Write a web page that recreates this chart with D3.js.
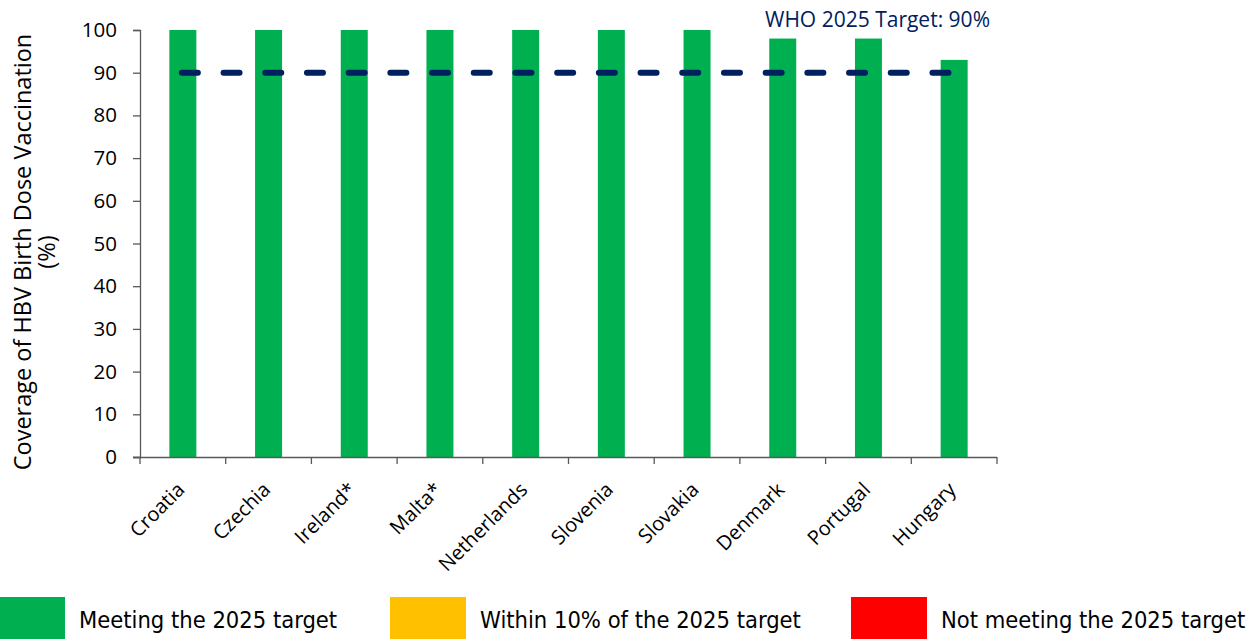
<!DOCTYPE html>
<html>
<head>
<meta charset="utf-8">
<script src="https://cdn.jsdelivr.net/npm/d3@7"></script>
<style>
  html, body { margin: 0; padding: 0; background: #fff; }
  svg { display: block; }
</style>
</head>
<body>
<svg id="chart" width="1258" height="639"></svg>
<script>
// ---- data ----
const countries = ["Croatia", "Czechia", "Ireland*", "Malta*", "Netherlands", "Slovenia", "Slovakia", "Denmark", "Portugal", "Hungary"];
const coverage = [100, 100, 100, 100, 100, 100, 100, 98, 98, 93];
const yTicks = [0, 10, 20, 30, 40, 50, 60, 70, 80, 90, 100];
const targetValue = 90;
const targetLabel = "WHO 2025 Target: 90%";
const legendLabels = ["Meeting the 2025 target", "Within 10% of the 2025 target", "Not meeting the 2025 target"];
const legendColors = ["#00b050", "#ffc000", "#ff0000"];
const yTitle = ["Coverage of HBV Birth Dose Vaccination", "(%)"];

// ---- layout ----
const svg = d3.select("#chart");
const pLeft = 140, pRight = 997, pTop = 30, pBottom = 457;
const axisFont = "'Open Sans', sans-serif";
const axisColor = "#595959";

const x = d3.scaleBand().domain(countries).range([pLeft, pRight]).paddingInner(0).paddingOuter(0);
const y = d3.scaleLinear().domain([0, 100]).range([pBottom, pTop]);
const barW = x.bandwidth() * 0.315;

function colorFor(v) {
  if (v >= targetValue) return legendColors[0];
  if (v >= targetValue * 0.9) return legendColors[1];
  return legendColors[2];
}

// bars
svg.append("g").selectAll("rect").data(countries).join("rect")
  .attr("x", (d) => x(d) + x.bandwidth() / 2 - barW / 2)
  .attr("y", (d, i) => y(coverage[i]))
  .attr("width", barW)
  .attr("height", (d, i) => y(0) - y(coverage[i]))
  .attr("fill", (d, i) => colorFor(coverage[i]));

// y axis
const yAxis = svg.append("g").attr("transform", `translate(${pLeft},0)`)
  .call(d3.axisLeft(y).tickValues(yTicks).tickSize(7).tickPadding(16));
yAxis.select(".domain").attr("stroke", axisColor).attr("stroke-width", 1.3);
yAxis.selectAll(".tick line").attr("stroke", axisColor).attr("stroke-width", 1.3);
yAxis.selectAll(".tick text").attr("font-family", axisFont).attr("font-size", 20.5).attr("fill", "#000");

// x axis
const xAxis = svg.append("g").attr("transform", `translate(0,${pBottom})`)
  .call(d3.axisBottom(x).tickSize(0).tickFormat(""));
xAxis.select(".domain").attr("stroke", axisColor).attr("stroke-width", 1.3)
  .attr("d", `M${pLeft - 7},0.5H${pRight}`);
// category boundary ticks
const bounds = countries.map((c) => x(c)).concat([pRight]);
xAxis.append("g").selectAll("line").data(bounds).join("line")
  .attr("x1", (d) => d).attr("x2", (d) => d)
  .attr("y1", 0).attr("y2", 7)
  .attr("stroke", axisColor).attr("stroke-width", 1.3);
// category labels
svg.append("g").selectAll("text").data(countries).join("text")
  .attr("transform", (d) => `translate(${x(d) + x.bandwidth() / 2 + 3},${pBottom + 34}) rotate(-45)`)
  .attr("text-anchor", "end")
  .attr("font-family", axisFont)
  .attr("font-size", 20)
  .attr("fill", "#000")
  .text((d) => d);

// y title
const yt = svg.append("text")
  .attr("transform", `translate(31,252) rotate(-90)`)
  .attr("text-anchor", "middle")
  .attr("font-family", axisFont)
  .attr("font-size", 23.5)
  .attr("fill", "#000");
yt.append("tspan").attr("x", 0).attr("dy", 0).text(yTitle[0]);
yt.append("tspan").attr("x", 0).attr("dy", 24).text(yTitle[1]);

// target line
const first = countries[0], last = countries[countries.length - 1];
svg.append("line")
  .attr("x1", x(first) + x.bandwidth() / 2 - 1)
  .attr("x2", x(last) + x.bandwidth() / 2 + 1)
  .attr("y1", y(targetValue)).attr("y2", y(targetValue))
  .attr("stroke", "#002060")
  .attr("stroke-width", 6)
  .attr("stroke-linecap", "round")
  .attr("stroke-dasharray", "16 25.7");

svg.append("text")
  .attr("x", 990).attr("y", 27)
  .attr("text-anchor", "end")
  .attr("font-family", axisFont)
  .attr("font-size", 21)
  .attr("fill", "#002060")
  .text(targetLabel);

// legend
const legX = [-11, 390, 851];
const lg = svg.append("g").selectAll("g").data(legendLabels).join("g")
  .attr("transform", (d, i) => `translate(${legX[i]},597)`);
lg.append("rect").attr("x", 0).attr("y", 0).attr("width", 76).attr("height", 42)
  .attr("fill", (d, i) => legendColors[i]);
lg.append("text").attr("x", 90).attr("y", 31)
  .attr("font-family", "'DejaVu Sans Condensed', 'DejaVu Sans', sans-serif")
  .attr("font-size", 23.5)
  .attr("fill", "#000")
  .text((d) => d);
</script>
</body>
</html>
